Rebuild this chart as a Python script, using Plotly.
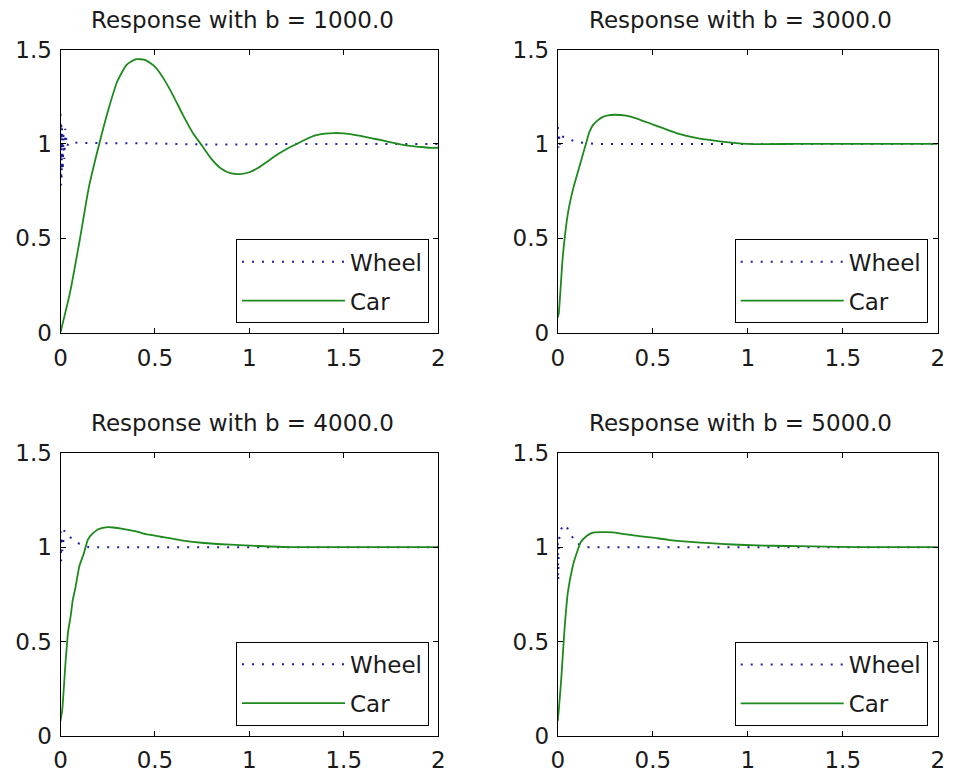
import plotly.graph_objects as go

# ---------------- data ----------------
B_VALUES = [1000.0, 3000.0, 4000.0, 5000.0]
SERIES_NAMES = ["Wheel", "Car"]
X_TICKS = [0, 0.5, 1, 1.5, 2]
Y_TICKS = [0, 0.5, 1, 1.5]

# b = 1000
WHEEL_T_1000 = [0, 0.002, 0.004, 0.006, 0.008, 0.012, 0.016, 0.02, 0.025, 0.03, 0.035,
                0.04, 0.05, 0.1, 0.3, 0.5, 0.7, 0.9, 1.2, 1.5, 2.0]
WHEEL_Y_1000 = [1.16, 0.78, 1.12, 0.82, 1.09, 0.86, 1.06, 0.92, 1.08, 1.03, 0.985,
                1.0, 1.01, 1.005, 1.006, 1.003, 0.998, 0.997, 1.0, 1.0, 1.0]
CAR_T_1000 = [0, 0.05, 0.1, 0.15, 0.2, 0.25, 0.3, 0.35, 0.4, 0.45, 0.5, 0.55, 0.6, 0.65,
              0.7, 0.75, 0.8, 0.85, 0.9, 0.95, 1.0, 1.05, 1.1, 1.15, 1.2, 1.25, 1.3, 1.35,
              1.4, 1.45, 1.5, 1.55, 1.6, 1.65, 1.7, 1.75, 1.8, 1.85, 1.9, 1.95, 2.0]
CAR_Y_1000 = [0, 0.21, 0.48, 0.77, 0.98, 1.17, 1.33, 1.42, 1.45, 1.445, 1.41, 1.34, 1.25,
              1.15, 1.06, 0.99, 0.92, 0.87, 0.845, 0.84, 0.85, 0.875, 0.91, 0.945, 0.975,
              1.0, 1.025, 1.045, 1.055, 1.058, 1.056, 1.05, 1.04, 1.03, 1.02, 1.008, 0.998,
              0.99, 0.985, 0.98, 0.98]

# b = 3000
WHEEL_T_3000 = [0, 0.003, 0.006, 0.01, 0.015, 0.02, 0.04, 0.06, 0.1, 0.2, 0.5, 1.0, 1.5, 2.0]
WHEEL_Y_3000 = [1.09, 0.98, 1.06, 0.99, 1.04, 1.04, 1.035, 1.025, 1.01, 1.0, 1.0, 1.0, 1.0, 1.0]
CAR_T_3000 = [0, 0.005, 0.026, 0.053, 0.079, 0.114, 0.145, 0.167, 0.185, 0.21, 0.24, 0.264,
              0.3, 0.36, 0.4, 0.483, 0.55, 0.624, 0.747, 0.852, 0.993, 1.25, 1.5, 2.0]
CAR_Y_3000 = [0.08, 0.10, 0.40, 0.63, 0.755, 0.88, 0.99, 1.065, 1.10, 1.125, 1.145, 1.152,
              1.155, 1.15, 1.14, 1.11, 1.085, 1.058, 1.028, 1.014, 1.0, 1.0, 1.0, 1.0]

# b = 4000
WHEEL_T_4000 = [0, 0.003, 0.006, 0.01, 0.02, 0.05, 0.1, 0.15, 0.2, 2.0]
WHEEL_Y_4000 = [1.085, 0.925, 1.06, 0.98, 1.088, 1.053, 1.017, 1.0, 1.0, 1.0]
CAR_T_4000 = [0, 0.009, 0.026, 0.04, 0.053, 0.065, 0.079, 0.1, 0.123, 0.145, 0.168, 0.2, 0.24,
              0.28, 0.33, 0.4, 0.46, 0.53, 0.64, 0.76, 0.9, 1.05, 1.22, 1.5, 2.0]
CAR_Y_4000 = [0.08, 0.135, 0.38, 0.55, 0.63, 0.72, 0.785, 0.90, 0.965, 1.04, 1.07, 1.095, 1.105,
              1.104, 1.097, 1.083, 1.067, 1.055, 1.036, 1.022, 1.013, 1.006, 1.0, 1.0, 1.0]

# b = 5000
WHEEL_T_5000 = [0, 0.002, 0.005, 0.01, 0.02, 0.04, 0.07, 0.1, 0.15, 2.0]
WHEEL_Y_5000 = [1.02, 0.82, 1.0, 1.08, 1.10, 1.12, 1.063, 1.02, 1.0, 1.0]
CAR_T_5000 = [0, 0.005, 0.018, 0.035, 0.053, 0.079, 0.1, 0.12, 0.15, 0.18, 0.23, 0.29, 0.34,
              0.4, 0.5, 0.58, 0.7, 0.8, 0.92, 1.05, 1.2, 1.34, 1.6, 2.0]
CAR_Y_5000 = [0.08, 0.135, 0.3, 0.56, 0.76, 0.90, 0.97, 1.025, 1.058, 1.076, 1.079, 1.078, 1.07,
              1.062, 1.05, 1.039, 1.028, 1.021, 1.014, 1.009, 1.006, 1.004, 1.0, 1.0]

WHEEL_T = [WHEEL_T_1000, WHEEL_T_3000, WHEEL_T_4000, WHEEL_T_5000]
WHEEL_Y = [WHEEL_Y_1000, WHEEL_Y_3000, WHEEL_Y_4000, WHEEL_Y_5000]
CAR_T = [CAR_T_1000, CAR_T_3000, CAR_T_4000, CAR_T_5000]
CAR_Y = [CAR_Y_1000, CAR_Y_3000, CAR_Y_4000, CAR_Y_5000]

# ---------------- layout geometry (window pixels) ----------------
W, H = 953, 772
# plot areas: (left, right, top, bottom) in pixels
AREAS = [(60.5, 438.2, 49.7, 332.5),
         (557.8, 937.7, 49.7, 332.5),
         (60.5, 438.2, 452.7, 736.0),
         (557.8, 937.7, 452.7, 736.0)]
# legend boxes: (right, bottom) in pixels
LEG_POS = [(429.0, 323.3), (927.7, 323.3), (429.0, 725.7), (927.7, 726.0)]

FONT = "DejaVu Sans"
FSIZE = 23
TXT = "#1a1a1a"
WHEEL_COLOR = "#1c1ca8"
CAR_COLOR = "#1e8a1e"

fig = go.Figure()
layout = dict(
    template="none",
    width=W, height=H, autosize=False,
    margin=dict(l=0, r=0, t=0, b=0, pad=0, autoexpand=False),
    paper_bgcolor="white", plot_bgcolor="white",
    font=dict(family=FONT, size=FSIZE, color=TXT),
    annotations=[],
)

for i in range(4):
    n = i + 1
    sfx = "" if n == 1 else str(n)
    xa, ya = "x" + sfx, "y" + sfx
    leg = "legend" + sfx
    fig.add_trace(go.Scatter(
        x=WHEEL_T[i], y=WHEEL_Y[i], mode="lines", name=SERIES_NAMES[0],
        line=dict(color=WHEEL_COLOR, width=2, dash="2px,8px"),
        xaxis=xa, yaxis=ya, legend=leg, legendgroup="w%d" % n, showlegend=True,
    ))
    fig.add_trace(go.Scatter(
        x=CAR_T[i], y=CAR_Y[i], mode="lines", name=SERIES_NAMES[1],
        line=dict(color=CAR_COLOR, width=1.8, shape="spline", smoothing=0.5),
        xaxis=xa, yaxis=ya, legend=leg, legendgroup="c%d" % n, showlegend=True,
    ))

    l, r, t, b = AREAS[i]
    common = dict(
        showline=True, linecolor="black", linewidth=1, mirror="ticks",
        ticks="inside", ticklen=5, tickcolor="black", tickwidth=1,
        showgrid=False, zeroline=False, automargin=False,
        tickfont=dict(family=FONT, size=FSIZE, color=TXT),
        fixedrange=True,
    )
    layout["xaxis" + sfx] = dict(
        domain=[l / W, r / W], range=[0, 2], tickvals=X_TICKS,
        anchor=ya, ticklabelstandoff=5 if n <= 2 else 3, **common)
    layout["yaxis" + sfx] = dict(
        domain=[1 - b / H, 1 - t / H], range=[0, 1.5], tickvals=Y_TICKS,
        anchor=xa, ticklabelstandoff=3, **common)

    lx, ly = LEG_POS[i]
    layout[leg] = dict(
        x=lx / W, y=1 - ly / H, xanchor="right", yanchor="bottom",
        xref="paper", yref="paper",
        bgcolor="white", bordercolor="black", borderwidth=1,
        font=dict(family=FONT, size=FSIZE, color=TXT),
        itemwidth=103, tracegroupgap=6, traceorder="grouped",
    )

    layout["annotations"].append(dict(
        text="Response with b = %.1f" % B_VALUES[i],
        xref=xa + " domain", yref=ya + " domain", x=0.5, y=1,
        xanchor="center", yanchor="bottom", xshift=-7, yshift=15,
        showarrow=False, font=dict(family=FONT, size=FSIZE, color=TXT),
    ))

fig.update_layout(**layout)
# remove the browser's default page margin so the figure fills the window exactly
fig.write_html(
    "out.html",
    config={"displayModeBar": False, "staticPlot": False},
    post_script="document.body.style.margin='0';document.body.style.overflow='hidden';",
)
